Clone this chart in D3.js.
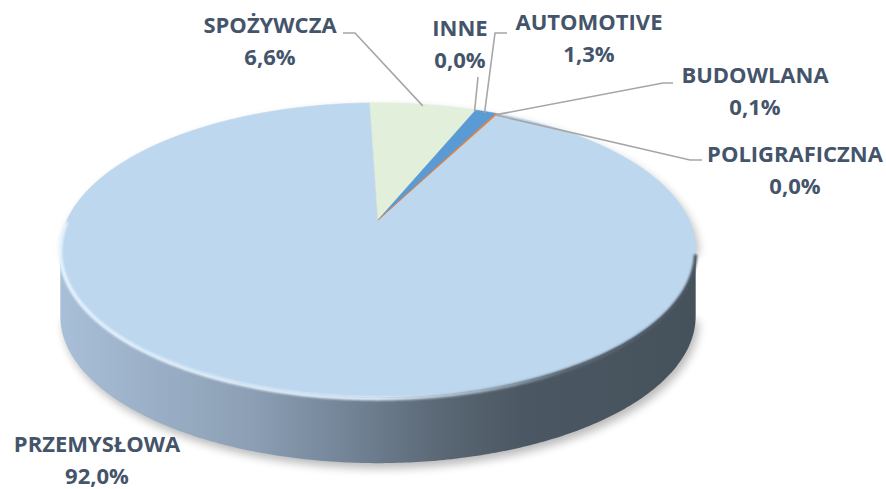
<!DOCTYPE html>
<html lang="pl">
<head>
  <meta charset="UTF-8">
  <title>Udział branż</title>
  <script src="https://d3js.org/d3.v7.min.js"></script>
  <style>
    body { margin: 0; background: #fff; }
    svg { display: block; }
    .label { font-family: 'Open Sans', sans-serif; font-weight: 700; font-size: 22px; fill: #44546a; }
    .leader { fill: none; stroke: #a6a6a6; stroke-width: 1.6; }
  </style>
</head>
<body>
  <svg id="chart" width="886" height="489"></svg>

  <script>
    // data, in clockwise drawing order
    var categories = ["PRZEMYSŁOWA", "SPOŻYWCZA", "INNE", "AUTOMOTIVE", "BUDOWLANA", "POLIGRAFICZNA"];
    var shares = [92.0, 6.6, 0.0, 1.3, 0.1, 0.0];
    var sliceColors = ["#bdd7ee", "#e2efda", "#a5a5a5", "#5b9bd5", "#ed7d31", "#ffc000"];

    // label placement (text centre x, name baseline y, leader start points)
    var labelLayout = {
      "PRZEMYSŁOWA":   { x: 97,  y: 452, leader: null },
      "SPOŻYWCZA":     { x: 270, y: 33,  leader: [[343, 33], [355, 33]] },
      "INNE":          { x: 460, y: 36,  leader: [[478, 77]] },
      "AUTOMOTIVE":    { x: 589, y: 30,  leader: [[507, 33], [495, 33]] },
      "BUDOWLANA":     { x: 755, y: 83,  leader: [[673, 83], [663, 83]] },
      "POLIGRAFICZNA": { x: 795, y: 162, leader: [[702, 160], [690, 160]] }
    };

    var svg = d3.select("#chart");
    var defs = svg.append("defs");

    // perspective disc: centre of pie, half axes, perspective factor, thickness
    var cx = 378, cy = 220, A = 311, B = 141, k = 0.204, depth = 66;

    function proj(theta, r, dy) {
      var u = r * Math.sin(theta), v = -r * Math.cos(theta);
      var w = 1 - k * v;
      return [cx + A * u / w, cy + B * v / w + (dy || 0)];
    }
    function arcPoints(a0, a1, dy) {
      var n = Math.max(2, Math.ceil(Math.abs(a1 - a0) / 0.01));
      return d3.range(n + 1).map(i => proj(a0 + (a1 - a0) * i / n, 1, dy));
    }

    var color = d3.scaleOrdinal().domain(categories).range(sliceColors);
    var pl = d3.formatLocale({ decimal: ",", thousands: " ", grouping: [3], currency: ["", " zł"] });
    var fmt = pl.format(".1f");

    var startAngle = 27 * Math.PI / 180;
    var pie = d3.pie().sort(null).value(d => d.value)
      .startAngle(startAngle).endAngle(startAngle + 2 * Math.PI);
    var arcs = pie(categories.map((c, i) => ({ name: c, value: shares[i] })));

    // visible front of the wall: between the left-most and right-most points
    var thR = Math.acos(-k), thL = 2 * Math.PI - thR;
    var line = d3.line();

    // gradients and filters
    var sideGrad = defs.append("linearGradient").attr("id", "side")
      .attr("gradientUnits", "userSpaceOnUse")
      .attr("x1", cx - 318).attr("x2", cx + 318).attr("y1", 0).attr("y2", 0);
    [[0, "#a8bfd8"], [0.3, "#8c9fb4"], [0.43, "#77889c"], [0.6, "#5a6875"], [0.73, "#4b5762"], [1, "#45515b"]]
      .forEach(s => sideGrad.append("stop").attr("offset", s[0]).attr("stop-color", s[1]));

    var rimGrad = defs.append("linearGradient").attr("id", "rim")
      .attr("gradientUnits", "userSpaceOnUse")
      .attr("x1", cx - 318).attr("x2", cx + 318).attr("y1", 0).attr("y2", 0);
    [[0, "#e8f5ff"], [0.5, "#e2f2ff"], [0.66, "#a9bccc"], [0.8, "#5e6c78"], [1, "#4a5661"]]
      .forEach(s => rimGrad.append("stop").attr("offset", s[0]).attr("stop-color", s[1]));

    defs.append("filter").attr("id", "blur6").attr("x", "-20%").attr("y", "-20%")
      .attr("width", "140%").attr("height", "140%")
      .append("feGaussianBlur").attr("stdDeviation", 5);
    defs.append("filter").attr("id", "blur1")
      .append("feGaussianBlur").attr("stdDeviation", 1.2);

    // drop shadow of the whole disc
    var outline = arcPoints(thL, thR + 2 * Math.PI, 0).concat(arcPoints(thR, thL, depth).reverse());
    svg.append("path")
      .attr("d", line(outline) + "Z")
      .attr("transform", "translate(3,5)")
      .attr("fill", "#000").attr("opacity", 0.28)
      .attr("filter", "url(#blur6)");

    // side wall, per slice where it faces the viewer
    arcs.forEach(d => {
      [0, 2 * Math.PI].forEach(off => {
        var lo = Math.max(d.startAngle, thR + off), hi = Math.min(d.endAngle, thL + off);
        if (lo >= hi) return;
        var pts = arcPoints(lo, hi, 0).concat(arcPoints(lo, hi, depth).reverse());
        svg.append("path").attr("d", line(pts) + "Z").attr("fill", "url(#side)");
      });
    });

    // top face
    svg.append("g").selectAll("path")
      .data(arcs)
      .join("path")
      .attr("d", d => line([[cx, cy]].concat(arcPoints(d.startAngle, d.endAngle, 0))) + "Z")
      .attr("fill", d => color(d.data.name))
      .attr("stroke", d => color(d.data.name))
      .attr("stroke-width", d => d.value > 0 ? 0.6 : 0);

    // bevel highlight along the front rim
    svg.append("path")
      .attr("d", line(arcPoints(thR + 0.02, thL + 0.2, 1.5)))
      .attr("fill", "none")
      .attr("stroke", "url(#rim)")
      .attr("stroke-width", 3.5)
      .attr("filter", "url(#blur1)");

    // labels and leader lines
    arcs.forEach(d => {
      var lay = labelLayout[d.data.name];
      var mid = (d.startAngle + d.endAngle) / 2;
      if (lay.leader) {
        var anchor = proj(mid, 0.985, 0);
        svg.append("path").attr("class", "leader")
          .attr("d", line(lay.leader.concat([anchor])));
      }
      var t = svg.append("text").attr("class", "label").attr("text-anchor", "middle");
      t.append("tspan").attr("x", lay.x).attr("y", lay.y).text(d.data.name);
      t.append("tspan").attr("x", lay.x).attr("y", lay.y + 32).text(fmt(d.data.value) + "%");
    });
  </script>
</body>
</html>
